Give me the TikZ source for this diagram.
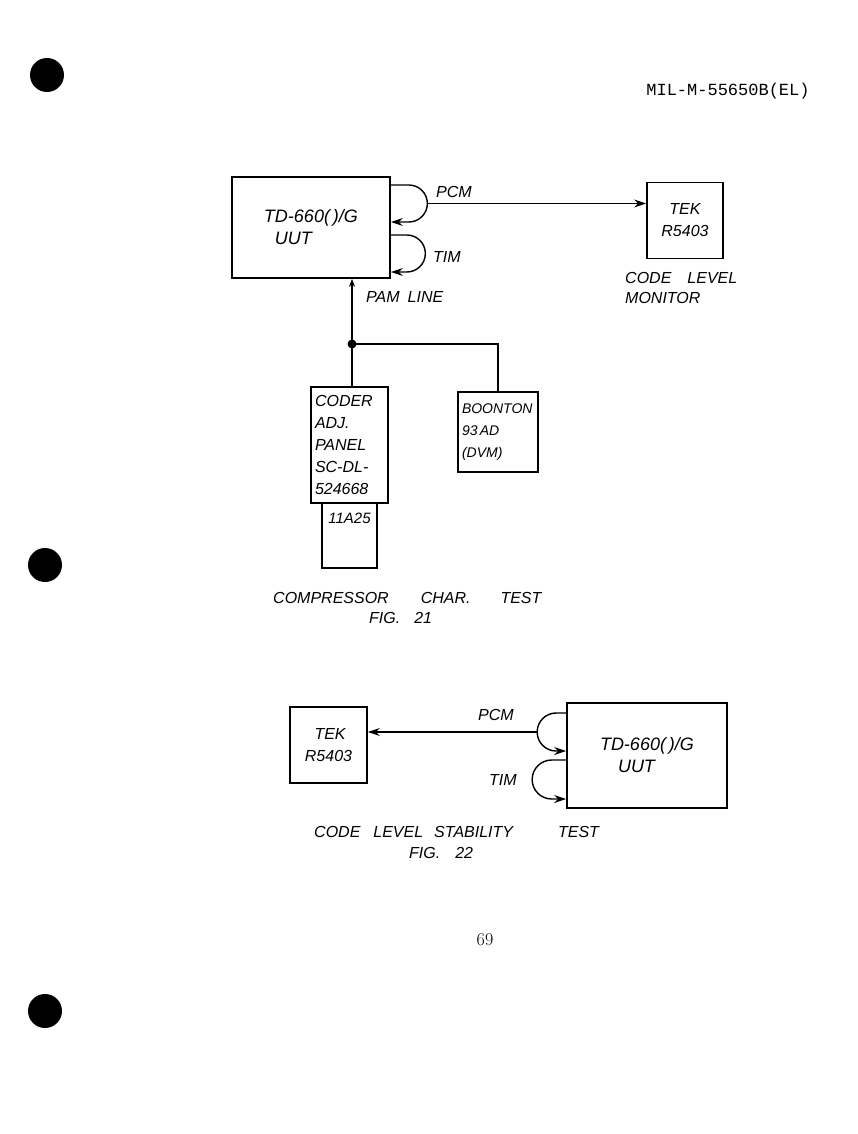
\documentclass[tikz,border=0pt]{standalone}
\usepackage{fontspec}
\newfontfamily\handfont{Liberation Sans}
\newfontfamily\typefont{Liberation Mono}
\usetikzlibrary{arrows.meta, positioning, calc}

\begin{document}
\begin{tikzpicture}[
    x=1pt, y=-1pt,
    base/.style={draw=black, line width=1.7pt, align=left, inner sep=4pt, font=\handfont\itshape\fontsize{16}{22}\selectfont},
    unitbox/.style={base, minimum width=158pt, minimum height=101pt, font=\handfont\itshape\fontsize{18}{22}\selectfont},
    tekbox/.style={base, minimum width=76pt, minimum height=76pt},
    wire/.style={line width=1.4pt},
    arrow/.style={wire, -{Stealth[length=12pt, width=8pt]}},
    labelnode/.style={font=\handfont\itshape\fontsize{16}{20}\selectfont, inner sep=1pt, align=left}
]
    \useasboundingbox (0,0) rectangle (858,1134);

    % --- Page ---
    \node[font=\typefont\fontsize{17}{20}\selectfont] (docid) at (728,91) {MIL-M-55650B(EL)};
    \node[font=\fontsize{18}{20}\selectfont] (page) at (485,940) {69};
    \fill (47,75) circle[radius=17pt];
    \fill (45,565) circle[radius=17pt];
    \fill (45,1011) circle[radius=17pt];

    % --- Nodes: Fig. 21 ---
    \node[unitbox] (uut1) at (311,227.5) {TD-660(\,)/G\\\hspace{0.6em}UUT};
    \node[tekbox] (tek1) at (685,220.5) {\hspace{0.5em}TEK\\R5403};
    \node[labelnode, anchor=west] (monitor) at (624,288) {CODE\hspace{16pt}LEVEL\\MONITOR};

    \node[base, text width=69pt, minimum height=116pt] (coder) at (349.5,445) {CODER\\ADJ.\\PANEL\\SC-DL-\\524668};
    \node[base, minimum width=55pt, minimum height=65pt, align=center, font=\handfont\itshape\fontsize{15}{20}\selectfont, below=-1.7pt of coder] (adapter) {11A25\\[14pt]};
    \node[base, text width=72pt, minimum height=80pt, font=\handfont\itshape\fontsize{14}{22}\selectfont] (boonton) at (498,432) {BOONTON\\93\,AD\\(DVM)};

    \coordinate (jn) at (352,344);

    \node[labelnode, anchor=west] (pcmlab1) at (435,192) {PCM};
    \node[labelnode, anchor=west] (timlab1) at (432,257) {TIM};
    \node[labelnode, anchor=west] (pamlab) at (365,297) {PAM\hspace{8pt}LINE};

    \node[labelnode, anchor=west] (cap21) at (272,598) {COMPRESSOR\hspace{32pt}CHAR.\hspace{30pt}TEST};
    \node[labelnode, anchor=west] (fig21) at (368,618) {FIG.\hspace{14pt}21};

    % --- Edges: Fig. 21 ---
    \draw[arrow] ($(uut1.east)+(0,-42.5)$) -- ++(18,0)
        arc[start angle=90, end angle=0, radius=18.5pt] coordinate (pcm1)
        arc[start angle=0, end angle=-90, radius=18.5pt] -- ++(-18,0);
    \draw[arrow] ($(uut1.east)+(0,7.5)$) -- ++(16,0)
        arc[start angle=90, end angle=-90, radius=18.5pt] -- ++(-16,0);
    \draw[arrow] (pcm1) -- (pcm1 -| tek1.west);

    \draw[wire, -{Stealth[length=8pt, width=6pt]}] (jn) -- (jn |- uut1.south);
    \draw[wire] (jn) -- (jn |- coder.north);
    \draw[wire] (jn) -| (boonton.north);
    \fill (jn) circle[radius=4.5pt];

    % --- Nodes: Fig. 22 ---
    \node[tekbox, minimum width=77pt] (tek2) at (328.5,745) {\hspace{0.6em}TEK\\R5403};
    \node[unitbox, minimum width=160pt, minimum height=105pt] (uut2) at (647,755.5) {TD-660(\,)/G\\\hspace{1em}UUT};

    \node[labelnode, anchor=west] (pcmlab2) at (477,715) {PCM};
    \node[labelnode, anchor=west] (timlab2) at (488,780) {TIM};

    \node[labelnode, anchor=west] (cap22) at (313,832) {CODE\hspace{13pt}LEVEL\hspace{11pt}STABILITY\hspace{45pt}TEST};
    \node[labelnode, anchor=west] (fig22) at (408,853) {FIG.\hspace{15pt}22};

    % --- Edges: Fig. 22 ---
    \draw[arrow] ($(uut2.west)+(0,-42.5)$) -- ++(-10,0)
        arc[start angle=90, end angle=180, radius=19pt] coordinate (pcm2)
        arc[start angle=180, end angle=270, radius=19pt] -- ++(10,0);
    \draw[arrow] ($(uut2.west)+(0,4.5)$) -- ++(-14.5,0)
        arc[start angle=90, end angle=270, radius=19.5pt] -- ++(14.5,0);
    \draw[arrow] (pcm2) -- (pcm2 -| tek2.east);

\end{tikzpicture}
\end{document}
